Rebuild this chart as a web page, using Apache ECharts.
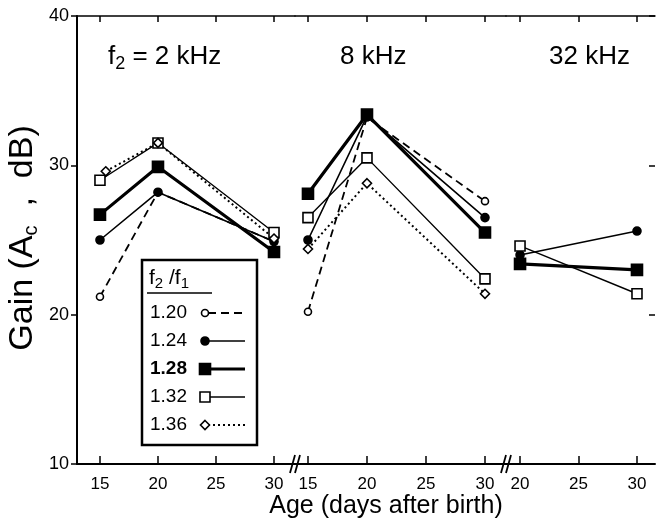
<!DOCTYPE html>
<html>
<head>
<meta charset="utf-8">
<script src="https://cdn.jsdelivr.net/npm/echarts@6/dist/echarts.min.js"></script>
<style>
  html, body { margin: 0; padding: 0; background: #fff; }
  #main { width: 659px; height: 525px; }
</style>
</head>
<body>
<div id="main"></div>
<script>
// 数据
let panelNames = ['2 kHz', '8 kHz', '32 kHz'];
let ratioNames = ['1.20', '1.24', '1.28', '1.32', '1.36'];
let tickDays = [[15, 20, 25, 30], [15, 20, 25, 30], [20, 25, 30]];
let yTicks = [10, 20, 30, 40];

// 2 kHz
let days2k = [15, 20, 30];
let days2k136 = [15.5, 20, 30];
let gain2k120 = [21.2, 28.2, 24.9];
let gain2k124 = [25.0, 28.2, 24.9];
let gain2k128 = [26.7, 29.9, 24.2];
let gain2k132 = [29.0, 31.5, 25.5];
let gain2k136 = [29.6, 31.5, 25.1];
// 8 kHz
let days8k = [15, 20, 30];
let gain8k120 = [20.2, 33.2, 27.6];
let gain8k124 = [25.0, 33.3, 26.5];
let gain8k128 = [28.1, 33.4, 25.5];
let gain8k132 = [26.5, 30.5, 22.4];
let gain8k136 = [24.4, 28.8, 21.4];
// 32 kHz
let days32k = [20, 30];
let gain32k124 = [24.0, 25.6];
let gain32k128 = [23.4, 23.0];
let gain32k132 = [24.6, 21.4];

const FONT = '"Liberation Sans", Arial, Helvetica, sans-serif';

// 每个比值的线型和标记
let styles = {
    '1.20': { symbol: 'circle', size: 7, fill: '#fff', width: 1.8, type: [8, 5] },
    '1.24': { symbol: 'circle', size: 8, fill: '#000', width: 1.6, type: 'solid' },
    '1.28': { symbol: 'rect', size: 11, fill: '#000', width: 3.2, type: 'solid' },
    '1.32': { symbol: 'rect', size: 10, fill: '#fff', width: 1.4, type: 'solid' },
    '1.36': { symbol: 'diamond', size: 9, fill: '#fff', width: 2, type: [2, 3] }
};

function mkSeries(grid, ratio, xs, ys) {
    let st = styles[ratio];
    return {
        type: 'line',
        name: ratio,
        xAxisIndex: grid * 2,
        yAxisIndex: grid,
        data: xs.map((x, i) => [x, ys[i]]),
        symbol: st.symbol,
        symbolSize: st.size,
        showSymbol: true,
        animation: false,
        z: ratio === '1.28' ? 3 : 2,
        lineStyle: { color: '#000', width: st.width, type: st.type },
        itemStyle: { color: st.fill, borderColor: '#000', borderWidth: 1.6, opacity: 1 }
    };
}

let series = [
    mkSeries(0, '1.20', days2k, gain2k120),
    mkSeries(0, '1.24', days2k, gain2k124),
    mkSeries(0, '1.28', days2k, gain2k128),
    mkSeries(0, '1.32', days2k, gain2k132),
    mkSeries(0, '1.36', days2k136, gain2k136),
    mkSeries(1, '1.20', days8k, gain8k120),
    mkSeries(1, '1.24', days8k, gain8k124),
    mkSeries(1, '1.28', days8k, gain8k128),
    mkSeries(1, '1.32', days8k, gain8k132),
    mkSeries(1, '1.36', days8k, gain8k136),
    mkSeries(2, '1.24', days32k, gain32k124),
    mkSeries(2, '1.28', days32k, gain32k128),
    mkSeries(2, '1.32', days32k, gain32k132)
];

let grids = [
    { left: 77, top: 16, width: 218, height: 448 },
    { left: 295, top: 16, width: 211, height: 448 },
    { left: 506, top: 16, width: 149, height: 448 }
];
let xRange = [[13.02, 31.81], [13.9, 31.78], [18.8, 31.54]];

let xAxes = [];
grids.forEach(function (g, i) {
    // 下方坐标轴
    xAxes.push({
        type: 'value', gridIndex: i, position: 'bottom',
        min: xRange[i][0], max: xRange[i][1],
        axisLine: { show: true, onZero: false, lineStyle: { color: '#000', width: 2 } },
        axisTick: { show: true, inside: true, length: 8, customValues: tickDays[i], lineStyle: { color: '#000', width: 1.5 } },
        axisLabel: { show: true, customValues: tickDays[i], color: '#000', fontSize: 17, fontFamily: FONT, margin: 12 },
        splitLine: { show: false }
    });
    // 上方边框
    xAxes.push({
        type: 'value', gridIndex: i, position: 'top',
        min: xRange[i][0], max: xRange[i][1],
        axisLine: { show: true, onZero: false, lineStyle: { color: '#000', width: 1.5 } },
        axisTick: { show: true, inside: true, length: 6, customValues: tickDays[i], lineStyle: { color: '#000', width: 1.5 } },
        axisLabel: { show: false },
        splitLine: { show: false }
    });
});

let yAxes = [
    {
        type: 'value', gridIndex: 0, position: 'left', min: 10, max: 40, interval: 10,
        axisLine: { show: true, lineStyle: { color: '#000', width: 2 } },
        axisTick: { show: true, inside: false, length: 6, lineStyle: { color: '#000', width: 1.5 } },
        axisLabel: { color: '#000', fontSize: 18, fontFamily: FONT, margin: 8 },
        splitLine: { show: false }
    },
    { type: 'value', gridIndex: 1, min: 10, max: 40, show: false },
    {
        type: 'value', gridIndex: 2, position: 'right', min: 10, max: 40, interval: 10,
        axisLine: { show: false },
        axisTick: { show: true, inside: true, length: 6, lineStyle: { color: '#000', width: 1.5 } },
        axisLabel: { show: false },
        splitLine: { show: false }
    }
];

// 断轴标记
function breakMark(cx) {
    return [
        { type: 'line', shape: { x1: cx - 6, y1: 473, x2: cx - 1, y2: 455 }, style: { stroke: '#000', lineWidth: 1.8 }, z: 10 },
        { type: 'line', shape: { x1: cx - 1, y1: 473, x2: cx + 4, y2: 455 }, style: { stroke: '#000', lineWidth: 1.8 }, z: 10 }
    ];
}

// 图例（手工画框）
function legendGroup() {
    let children = [
        { type: 'rect', shape: { x: 0, y: 0, width: 115, height: 185 }, style: { fill: '#fff', stroke: '#000', lineWidth: 2.5 } },
        { type: 'text', x: 7, y: 18, style: { text: '{a|f}{s|2}{a| /f}{s|1}', verticalAlign: 'middle', rich: {
            a: { fontSize: 21, fontFamily: FONT, fill: '#000' },
            s: { fontSize: 15, fontFamily: FONT, fill: '#000', padding: [11, 0, 0, 0] } } } },
        { type: 'line', shape: { x1: 5, y1: 33, x2: 70, y2: 33 }, style: { stroke: '#000', lineWidth: 1.5 } }
    ];
    ratioNames.forEach(function (r, i) {
        let st = styles[r];
        let cy = 53 + i * 28;
        children.push({ type: 'text', x: 8, y: cy, style: { text: r, font: (r === '1.28' ? 'bold ' : '') + '19px ' + FONT, fill: '#000', verticalAlign: 'middle' } });
        children.push({ type: 'line', shape: { x1: 66, y1: cy, x2: 103, y2: cy }, style: { stroke: '#000', lineWidth: st.width, lineDash: st.type === 'solid' ? null : st.type } });
        let h = st.size / 2;
        let mk;
        if (st.symbol === 'circle') {
            mk = { type: 'circle', shape: { cx: 63, cy: cy, r: h } };
        } else if (st.symbol === 'rect') {
            mk = { type: 'rect', shape: { x: 63 - h, y: cy - h, width: st.size, height: st.size } };
        } else {
            mk = { type: 'polygon', shape: { points: [[63, cy - h], [63 + h, cy], [63, cy + h], [63 - h, cy]] } };
        }
        mk.style = { fill: st.fill, stroke: '#000', lineWidth: 1.6 };
        mk.z = 2;
        children.push(mk);
    });
    return { type: 'group', x: 142, y: 260, z: 20, children: children };
}

let titleRich = {
    a: { fontSize: 26, fontFamily: FONT, fill: '#000' },
    s: { fontSize: 18, fontFamily: FONT, fill: '#000', padding: [14, 0, 0, 0] }
};

let graphics = [].concat(
    breakMark(296), breakMark(507),
    [
        { type: 'text', x: 108, y: 57, style: { text: '{a|f}{s|2}{a| = ' + panelNames[0] + '}', verticalAlign: 'middle', rich: titleRich } },
        { type: 'text', x: 340, y: 57, style: { text: panelNames[1], font: '26px ' + FONT, fill: '#000', verticalAlign: 'middle' } },
        { type: 'text', x: 549, y: 57, style: { text: panelNames[2], font: '26px ' + FONT, fill: '#000', verticalAlign: 'middle' } },
        { type: 'text', x: 386, y: 506, style: { text: 'Age (days after birth)', font: '25px ' + FONT, fill: '#000', align: 'center', verticalAlign: 'middle' } },
        { type: 'text', x: 23, y: 238, rotation: Math.PI / 2, style: {
            text: '{a|Gain (A}{s|c}{a|  ,  dB)}', align: 'center', verticalAlign: 'middle',
            rich: { a: { fontSize: 34, fontFamily: FONT, fill: '#000' },
                    s: { fontSize: 20, fontFamily: FONT, fill: '#000', padding: [16, 0, 0, 0] } } } },
        legendGroup()
    ]
);

let option = {
    backgroundColor: '#fff',
    animation: false,
    grid: grids,
    xAxis: xAxes,
    yAxis: yAxes,
    series: series,
    graphic: graphics
};

let chart = echarts.init(document.getElementById('main'));
chart.setOption(option);
</script>
</body>
</html>
